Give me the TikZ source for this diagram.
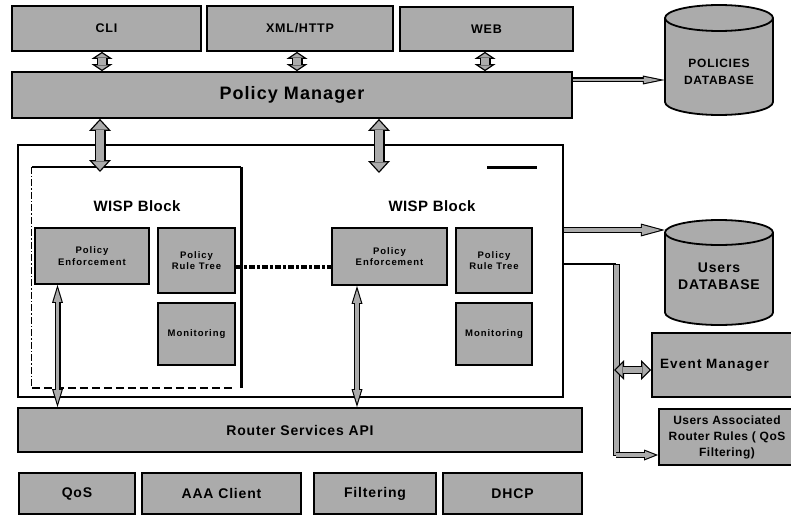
\documentclass[tikz,border=0pt]{standalone}
\usepackage{fontspec}
\setmainfont{Liberation Sans}
\usetikzlibrary{arrows.meta,calc}
\definecolor{hatch}{gray}{0.67}
\newcommand\F[3]{\fontsize{#1pt}{#2pt}\selectfont\bfseries\addfontfeatures{LetterSpace=#3}}
\newcommand\cyl[5]{%
  \filldraw[fill=hatch, line width=1.8pt] (#1-#3,#2+#5) -- (#1-#3,#4-#5)
    arc[start angle=180, end angle=0, x radius=#3, y radius=#5] -- (#1+#3,#2+#5)
    arc[start angle=0, end angle=-180, x radius=#3, y radius=#5] -- cycle;
  \draw[line width=1.8pt] (#1-#3,#2+#5) arc[start angle=180, end angle=0, x radius=#3, y radius=#5];
}
\newcommand\holo[4]{\draw[#1] #3 -- #4; \draw[#2] #3 -- #4;}
\tikzset{
  gb/.style={draw, line width=1.8pt, fill=hatch, inner sep=0pt, align=center},
  dbl/.style n args={3}{line width=#1, {Triangle[width=#2,length=#3,line width=0pt]}-{Triangle[width=#2,length=#3,line width=0pt]}},
  sgl/.style n args={3}{line width=#1, -{Triangle[width=#2,length=#3,line width=0pt]}},
  ins/.style={draw=hatch, shorten <=#1, shorten >=#1},
  insS/.style={draw=hatch, shorten >=#1},
  fsmall/.style={font={\F{9.5}{11.5}{10}}},
}
\begin{document}
\begin{tikzpicture}[x=1pt,y=-1pt]
\useasboundingbox (0,0) rectangle (791,516);
\clip (0,0) rectangle (791,516);

% top row
\node[gb, minimum width=189pt, minimum height=45pt, font={\F{12.5}{15}{6}}] (cli) at (106.5,28.5) {CLI};
\node[gb, minimum width=186pt, minimum height=45pt, font={\F{12.5}{15}{6}}] (xml) at (300,28.5) {XML/HTTP};
\node[gb, minimum width=173pt, minimum height=44pt, font={\F{12.5}{15}{6}}] (web) at (486.5,29) {WEB};
\node[gb, minimum width=560pt, minimum height=46pt, font={\F{18}{20}{6}}] (pm) at (292,95) {Policy Manager};

% policies database
\cyl{719}{5}{54}{115}{13}
\node[minimum width=108pt, minimum height=110pt, inner sep=0pt] (pdb) at (719,60) {};
\node[align=center, inner sep=0pt, font={\F{12}{16.5}{6}}] (pdbt) at (719,72) {POLICIES\\DATABASE};

% main box
\node[draw, line width=1.4pt, minimum width=545pt, minimum height=252pt, inner sep=0pt] (main) at (290.5,271) {};

% left WISP frame
\node[minimum width=209pt, minimum height=221pt, inner sep=0pt] (wispL) at (136.5,277.5) {};
\draw[line width=2.6pt] (wispL.north west) -- (wispL.north east);
\draw[line width=3pt] (wispL.north east) -- (wispL.south east);
\draw[line width=1.3pt, dash pattern=on 7pt off 2pt on 1.5pt off 2pt] (wispL.north west) -- (wispL.south west);
\draw[line width=2pt, dash pattern=on 8pt off 4pt] (wispL.south west) -- ($(wispL.south east)+(-9,0)$);
\draw[line width=3pt] (487,167) -- (537,167);

\node[font={\F{15}{17}{3}}] (wlt) at (137,206) {WISP Block};
\node[font={\F{15}{17}{3}}] (wrt) at (432,206) {WISP Block};

\node[gb, fsmall, minimum width=114pt, minimum height=56pt] (peL) at (92,256) {Policy\\Enforcement};
\node[gb, fsmall, minimum width=77pt, minimum height=65pt] (rtL) at (196.5,260.5) {Policy\\Rule Tree};
\node[gb, fsmall, minimum width=77pt, minimum height=62pt] (monL) at (196.5,334) {Monitoring};
\node[gb, fsmall, minimum width=115pt, minimum height=57pt] (peR) at (389.5,256.5) {Policy\\Enforcement};
\node[gb, fsmall, minimum width=76pt, minimum height=65pt] (rtR) at (494,260.5) {Policy\\Rule Tree};
\node[gb, fsmall, minimum width=76pt, minimum height=62pt] (monR) at (494,334) {Monitoring};

\coordinate (yd) at (0,267);
\draw[line width=4pt, dash pattern=on 6pt off 2pt on 3pt off 2pt] (rtL.east |- yd) -- (peR.west |- yd);

% router API and services
\node[gb, minimum width=564pt, minimum height=44pt, font={\F{14}{16}{6}}] (api) at (300,430) {Router Services API};
\node[gb, minimum width=116pt, minimum height=41pt, font={\F{14}{16}{6}}] (qos) at (77,493.5) {QoS};
\node[gb, minimum width=159pt, minimum height=41pt, font={\F{14}{16}{6}}] (aaa) at (221.5,493.5) {AAA Client};
\node[gb, minimum width=122pt, minimum height=41pt, font={\F{14}{16}{6}}] (filt) at (375,493.5) {Filtering};
\node[gb, minimum width=139pt, minimum height=41pt, font={\F{14}{16}{6}}] (dhcp) at (512.5,493.5) {DHCP};

% users database
\cyl{719}{220}{54}{325}{12.5}
\node[minimum width=108pt, minimum height=105pt, inner sep=0pt] (udb) at (719,272.5) {};
\node[align=center, inner sep=0pt, font={\F{14}{17}{6}}] (udbt) at (719,276) {Users\\DATABASE};

% event manager and rules
\node[gb, minimum height=64pt, text width=132pt, inner xsep=8pt, align=left, font={\F{13.5}{16}{9}}] (em) at (726,365) {Event Manager};
\node[gb, minimum width=136pt, minimum height=56pt, font={\F{12}{16}{4}}] (ua) at (727,437) {Users Associated\\Router Rules ( QoS\\Filtering)};

% arrows top
\coordinate (xa) at (102,0);
\coordinate (xb) at (297,0);
\coordinate (xc) at (485,0);
\holo{dbl={11pt}{21pt}{7pt}}{dbl={8.4pt}{12.4pt}{4.14pt}, ins=1.56pt}{(cli.south -| xa)}{(pm.north -| xa)}
\holo{dbl={11pt}{21pt}{7pt}}{dbl={8.4pt}{12.4pt}{4.14pt}, ins=1.56pt}{(xml.south -| xb)}{(pm.north -| xb)}
\holo{dbl={11pt}{21pt}{7pt}}{dbl={8.4pt}{12.4pt}{4.14pt}, ins=1.56pt}{(web.south -| xc)}{(pm.north -| xc)}

\coordinate (tl) at (100,172);
\coordinate (tr) at (379,173);
\holo{dbl={11pt}{22pt}{12pt}}{dbl={8.4pt}{16.1pt}{8.78pt}, ins=1.92pt}{(pm.south -| tl)}{(tl)}
\holo{dbl={11pt}{22pt}{12pt}}{dbl={8.4pt}{16.1pt}{8.78pt}, ins=1.92pt}{(pm.south -| tr)}{(tr)}

\coordinate (xl) at (57.5,0);
\coordinate (xr) at (357,0);
\holo{dbl={6pt}{11pt}{18pt}}{dbl={3.8pt}{8pt}{13.1pt}, ins=3.77pt}{(peL.south -| xl)}{(api.north -| xl)}
\holo{dbl={6pt}{11pt}{18pt}}{dbl={3.8pt}{8pt}{13.1pt}, ins=3.77pt}{(peR.south -| xr)}{(api.north -| xr)}

% right side
\coordinate (yp) at (0,80);
\holo{sgl={5pt}{9pt}{22pt}}{sgl={2.6pt}{6.3pt}{15.4pt}, insS=5.5pt}{(pm.east |- yp)}{(pdb.west |- yp)}
\coordinate (yu) at (0,230);
\holo{sgl={6pt}{13pt}{24pt}}{sgl={3.8pt}{10.1pt}{18.7pt}, insS=4.2pt}{(main.east |- yu)}{(udb.west |- yu)}

\coordinate (c1) at (616,264);
\coordinate (c2) at (616,455);
\draw[line width=1.3pt] (main.east |- c1) -- (c1);
\filldraw[fill=hatch, draw=black, line width=0.8pt] ($(c1)+(-3,0)$) rectangle ($(c2)+(3,0)$);
\holo{sgl={6pt}{11pt}{14pt}}{sgl={3.8pt}{7.8pt}{9.9pt}, insS=3pt}{(c2)}{(ua.west |- c2)}
\coordinate (ce) at (614,370);
\holo{dbl={8pt}{20pt}{10pt}}{dbl={5.4pt}{13.7pt}{6.86pt}, ins=1.84pt}{(ce)}{(em.west |- ce)}
\end{tikzpicture}
\end{document}
